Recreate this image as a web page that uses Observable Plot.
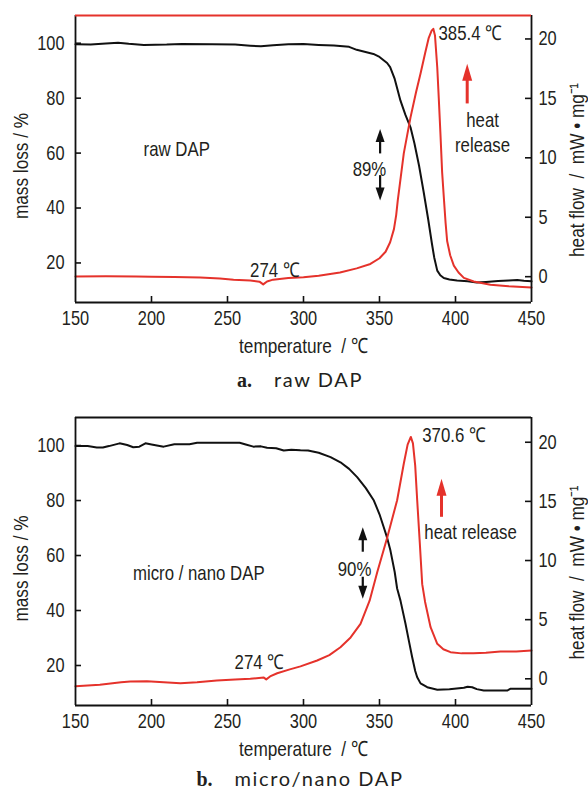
<!DOCTYPE html>
<html><head><meta charset="utf-8">
<script src="https://cdn.jsdelivr.net/npm/d3@7"></script>
<script src="https://cdn.jsdelivr.net/npm/@observablehq/plot@0.6"></script>
<style>
html,body{margin:0;padding:0;background:#fff;}
#page{position:relative;width:588px;height:791px;overflow:hidden;background:#fff;}
.panel{position:absolute;left:0;}
.cap{position:absolute;left:0;width:600px;text-align:center;font-size:20px;line-height:20px;color:#231f20;white-space:nowrap;}
.cap b{font-family:"Liberation Serif",serif;font-weight:bold;margin-right:22px;}
.cap span{font-family:Lato,sans-serif;letter-spacing:1.6px;}
</style></head><body><div id="page"></div>
<script>
// ---------- data ----------
const xTicks = [150, 200, 250, 300, 350, 400, 450];
const leftTicks = [20, 40, 60, 80, 100];
const rightTicks = [0, 5, 10, 15, 20];

// panel a: raw DAP
const massA_t = [150,160,170,178,185,195,210,220,240,255,265,272,280,290,300,310,320,330,335,346,350,355,357,360,363.8,367,370.4,373,376,379,382,384.5,386,388,390,392.3,396,401,408,414,420,428,435,440.6,445,450];
const massA_v = [99.6,99.5,99.9,100.2,99.8,99.4,99.5,99.7,99.6,99.5,99.1,98.9,99.3,99.6,99.7,99.4,99.2,98.7,97.6,96.1,95.0,92.8,91.3,87.0,79.1,74.0,69.4,63.5,55.5,46.0,36.0,27.0,22.0,17.2,15.5,14.5,14.0,13.6,13.3,12.9,13.1,13.4,13.6,13.8,13.5,13.3];
const heatA_t = [150,170,190,200,215,232,245,254,265,271,273.5,276,280,290,300,310,324,335,344,350,354,357,359.5,361,362,364,366,370.4,374,377,380,382.4,384.3,385.4,386.5,388,389,390.1,391.2,392.3,393.5,394.5,396.5,398.9,402,405.5,412,423,435,450];
const heatA_v = [0.02,0.03,0.02,0.0,-0.02,-0.06,-0.15,-0.25,-0.33,-0.42,-0.65,-0.4,-0.25,-0.12,-0.05,0.08,0.36,0.7,1.07,1.55,2.1,2.9,4.0,5.2,6.4,8.4,10.4,13.4,15.5,17.1,18.8,20.1,20.7,20.85,20.3,17.6,15.0,12.0,8.8,6.7,4.5,3.0,1.8,0.93,0.35,-0.1,-0.4,-0.67,-0.8,-0.9];

// panel b: micro/nano DAP
const massB_t = [150,158,164,168,172,179,184,188,192,196,200,208,215,225,230,245,258,262,267,272,276,282,287,292,298,303,310,317.8,324.3,330,335.3,341,346.3,350,352.8,355,357.2,360,361.6,363.8,367.1,369.5,371.5,373.5,374.8,377,381.4,388,396,405.5,408,411,414,418.6,434,436,450];
const massB_v = [99.8,99.8,99.3,99.3,99.8,100.8,100.2,99.4,99.6,100.8,100.4,99.6,100.5,100.5,101,101,101,100.4,99.6,99.7,99.2,99.0,98.2,98.5,98.3,98.2,97.4,95.8,93.9,91.5,88.5,84.5,80.0,75.0,70.3,66.5,61.8,54.0,48.0,43.6,35.2,28.5,23.0,18.0,15.7,13.5,12.1,11.2,11.4,11.9,12.3,12.1,11.4,10.9,10.9,11.5,11.5];
const heatB_t = [150,166,180,186,197,208,219,230,243,255,265,273.9,275.5,278,282.7,291,298,309,317,324.3,331,337.5,343.5,348.5,355,361.6,366,368.5,370.6,372,373.5,374.8,376.5,378.1,380,383.6,388,392,396.7,404,411.8,420,429.6,440,450];
const heatB_v = [-0.63,-0.5,-0.3,-0.23,-0.2,-0.3,-0.37,-0.3,-0.14,-0.05,0.0,0.1,-0.05,0.2,0.47,0.8,1.05,1.55,2.0,2.67,3.5,4.65,6.6,9.0,11.9,15.1,18.2,19.8,20.45,19.9,18.0,15.1,11.5,8.0,6.5,4.36,2.96,2.5,2.25,2.15,2.16,2.2,2.3,2.3,2.39];

// annotations (temperature, left-axis value)
const notesA = [
  {t: 216.6, v: 62.1, label: "raw DAP"},
  {t: 281.2, v: 17.8, label: "274 ℃"},
  {t: 417.8, v: 67.9, label: "heat\nrelease"},
  {t: 343.4, v: 54.6, label: "89%"}
];
const peakA = [{t: 388.8, v: 103.4, label: "385.4 ℃"}];
const notesB = [
  {t: 231.1, v: 53.9, label: "micro / nano DAP"},
  {t: 271.0, v: 21.8, label: "274 ℃"},
  {t: 409.9, v: 69.1, label: "heat release"},
  {t: 333.6, v: 55.7, label: "90%"}
];
const peakB = [{t: 378.1, v: 103.6, label: "370.6 ℃"}];

// arrows: shaft from y1 to y2, head tip at tip
const blackArrowsA = [{t: 350.4, y1: 59.7, y2: 65.5, tip: 68.8, dir: "up"}, {t: 350.4, y1: 51.8, y2: 46.0, tip: 42.7, dir: "down"}];
const redArrowA = [{t: 407.7, y1: 77.9, y2: 87.5, tip: 92.5, dir: "up"}];
const blackArrowsB = [{t: 339.0, y1: 61.2, y2: 66.8, tip: 70.3, dir: "up"}, {t: 339.0, y1: 52.1, y2: 47.8, tip: 44.3, dir: "down"}];
const redArrowB = [{t: 390.8, y1: 73.9, y2: 84.0, tip: 87.9, dir: "up"}];

// ---------- style ----------
const FONT = `"Liberation Sans", Arial, sans-serif`;
const NARROW = 0.82;   // horizontal squeeze to imitate a narrow sans
const RED = "#e5322b";
const INK = "#111111";
const TXT = "#231f20";

function head(w, l, up) {
  return {draw(ctx) {
    const s = up ? 1 : -1;
    ctx.moveTo(0, 0); ctx.lineTo(w / 2, s * l); ctx.lineTo(-w / 2, s * l); ctx.closePath();
  }};
}
function zip(ts, vs) { return ts.map((t, i) => ({t, v: vs[i]})); }

function condense(svg, s) {
  svg.querySelectorAll("text").forEach(t => {
    const x = +t.getAttribute("x") || 0, y = +t.getAttribute("y") || 0;
    const tr = t.getAttribute("transform") || "";
    t.setAttribute("transform", `${tr} translate(${x},${y}) scale(${s},1) translate(${-x},${-y})`);
  });
  return svg;
}

function panel(o) {
  const W = 588, mL = 75, mR = 57;
  const fw = W - mL - mR, fh = o.height - o.marginTop - o.marginBottom;
  const toM = h => o.hf0 + o.hfK * h;
  const rightM = rightTicks.map(toM);
  const axisStroke = {stroke: INK, strokeWidth: 1.8};
  const title = {textAnchor: "middle", lineAnchor: "middle", fontSize: 21, fill: TXT};
  const arrowMarks = (arr, color, sw, hw, hl) => [
    Plot.ruleX(arr, {x: "t", y1: "y1", y2: "y2", stroke: color, strokeWidth: sw}),
    Plot.dot(arr.filter(d => d.dir === "up"), {x: "t", y: "tip", symbol: head(hw, hl, true), fill: color, stroke: "none", r: 4}),
    Plot.dot(arr.filter(d => d.dir === "down"), {x: "t", y: "tip", symbol: head(hw, hl, false), fill: color, stroke: "none", r: 4})
  ];
  const svg = Plot.plot({
    width: W, height: o.height, marginLeft: mL, marginRight: mR, marginTop: o.marginTop, marginBottom: o.marginBottom,
    style: {fontFamily: FONT, fontSize: "20px", color: TXT, background: "white", overflow: "visible"},
    x: {domain: [150, 450], axis: null},
    y: {domain: o.yDomain, axis: null},
    marks: [
      Plot.line(zip(o.massT, o.massV), {x: "t", y: "v", stroke: INK, strokeWidth: 2, strokeLinejoin: "round"}),
      Plot.line(zip(o.heatT, o.heatV), {x: "t", y: d => toM(d.v), stroke: RED, strokeWidth: 2, strokeLinejoin: "round"}),
      Plot.ruleX([150, 450], axisStroke),
      Plot.ruleY([o.yDomain[0]], axisStroke),
      Plot.ruleY([o.yDomain[1]], {stroke: o.topColor, strokeWidth: 1.8}),
      Plot.tickY(leftTicks, {y: d => d, insetRight: fw - 6, stroke: INK, strokeWidth: 1.6}),
      Plot.tickY(rightM, {y: d => d, insetLeft: fw - 6, stroke: INK, strokeWidth: 1.6}),
      Plot.tickX(xTicks.slice(1, -1), {x: d => d, insetTop: fh - 6, stroke: INK, strokeWidth: 1.6}),
      Plot.axisX({ticks: xTicks, tickSize: 0, tickPadding: 8, label: null, tickFormat: d => String(d), fill: TXT}),
      Plot.axisY({ticks: leftTicks, anchor: "left", tickSize: 0, tickPadding: 11, label: null, tickFormat: d => String(d), fill: TXT}),
      Plot.axisY({ticks: rightM, anchor: "right", tickSize: 0, tickPadding: 7, label: null, tickFormat: d => String(Math.round((d - o.hf0) / o.hfK)), fill: TXT}),
      Plot.text(["mass loss / %"], {text: d => d, frameAnchor: "left", rotate: -90, dx: -54, dy: 7, ...title}),
      Plot.text(["heat flow  /  mW • mg⁻¹"], {text: d => d, frameAnchor: "right", rotate: -90, dx: 46, dy: 11, ...title}),
      Plot.text(["temperature  / ℃"], {text: d => d, frameAnchor: "bottom", dy: 44, ...title}),
      Plot.text(o.notes, {x: "t", y: "v", text: "label", textAnchor: "middle", lineHeight: 1.25, fontSize: 20.5, fill: TXT}),
      Plot.text(o.peak, {x: "t", y: "v", text: "label", textAnchor: "start", fontSize: 20.5, fill: TXT}),
      ...arrowMarks(o.blackArrows, INK, 2.2, 9, 13),
      ...arrowMarks(o.redArrow, RED, 3, 10, 17)
    ]
  });
  return condense(svg, NARROW);
}

const page = document.getElementById("page");
const a = panel({height: 362, marginTop: 15, marginBottom: 60, yDomain: [5.6, 110.1], hf0: 15.0, hfK: 4.328, topColor: RED,
  massT: massA_t, massV: massA_v, heatT: heatA_t, heatV: heatA_v, notes: notesA, peak: peakA, blackArrows: blackArrowsA, redArrow: redArrowA});
a.classList.add("panel"); a.style.top = "0px"; page.appendChild(a);
const capA = document.createElement("div"); capA.className = "cap"; capA.style.top = "369px";
capA.innerHTML = "<b>a.</b><span>raw DAP</span>"; page.appendChild(capA);

const b = panel({height: 362, marginTop: 17, marginBottom: 57, yDomain: [5.45, 110.2], hf0: 15.16, hfK: 4.302, topColor: INK,
  massT: massB_t, massV: massB_v, heatT: heatB_t, heatV: heatB_v, notes: notesB, peak: peakB, blackArrows: blackArrowsB, redArrow: redArrowB});
b.classList.add("panel"); b.style.top = "400px"; page.appendChild(b);
const capB = document.createElement("div"); capB.className = "cap"; capB.style.top = "768px";
capB.innerHTML = "<b>b.</b><span>micro/nano DAP</span>"; page.appendChild(capB);
</script>
</body></html>
